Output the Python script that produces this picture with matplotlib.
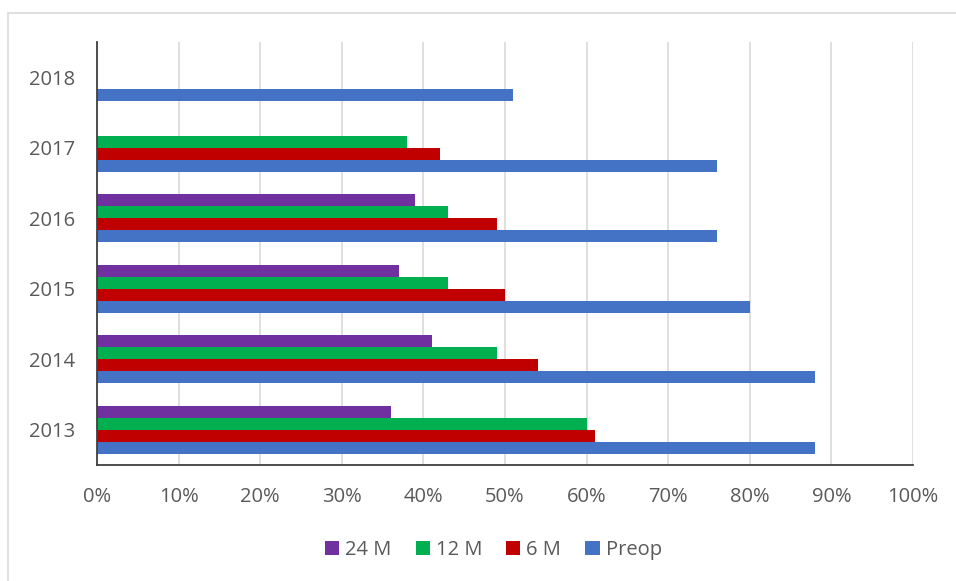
import numpy as np
import matplotlib.pyplot as plt
from matplotlib.patches import Rectangle

years = ["2013", "2014", "2015", "2016", "2017", "2018"]
preop = [0.88, 0.88, 0.80, 0.76, 0.76, 0.51]
m6 = [0.61, 0.54, 0.50, 0.49, 0.42, np.nan]
m12 = [0.60, 0.49, 0.43, 0.43, 0.38, np.nan]
m24 = [0.36, 0.41, 0.37, 0.39, np.nan, np.nan]

plt.rcParams['font.family'] = ['Open Sans', 'DejaVu Sans']
txt = '#595959'

fig = plt.figure(figsize=(9.56, 5.81), dpi=100)
ax = fig.add_axes([0.1015, 0.1997, 0.8535, 0.728])

# outer chart border (only top and left edges fall inside the picture)
fig.patches.append(Rectangle((8 / 956, -0.1), 2.0, 1.1 - 13 / 581,
                             transform=fig.transFigure, fill=False,
                             edgecolor='#d9d9d9', lw=1.2))

y = np.arange(len(years))
h = 0.17
series = [("Preop", preop, '#4472c4', -1.5),
          ("6 M", m6, '#c00000', -0.5),
          ("12 M", m12, '#00b050', 0.5),
          ("24 M", m24, '#7030a0', 1.5)]
handles = {}
for name, vals, col, off in series:
    v = np.array(vals, dtype=float)
    mask = ~np.isnan(v)
    b = ax.barh(y[mask] + off * h, v[mask], height=h, color=col, zorder=3)
    handles[name] = b

ax.set_xlim(0, 1)
ax.set_ylim(-0.5, len(years) - 0.5)
ax.set_xticks(np.arange(0, 1.01, 0.1))
ax.set_xticklabels([f"{int(round(t * 100))}%" for t in np.arange(0, 1.01, 0.1)])
ax.set_yticks(y)
ax.set_yticklabels(years)
ax.tick_params(axis='both', length=0, labelsize=14.5, colors=txt)
ax.tick_params(axis='x', pad=16)
ax.tick_params(axis='y', pad=16)
ax.grid(axis='x', color='#d9d9d9', lw=1.2, zorder=0)
for s in ['top', 'right']:
    ax.spines[s].set_visible(False)
for s in ['left', 'bottom']:
    ax.spines[s].set_color('#404040')
    ax.spines[s].set_linewidth(1.3)
    ax.spines[s].set_zorder(4)

order = ["24 M", "12 M", "6 M", "Preop"]
fig.legend([handles[n] for n in order], order, loc='center',
           bbox_to_anchor=(0.516, 0.053), ncol=4, frameon=False,
           fontsize=14.5, labelcolor=txt, handlelength=0.7, handleheight=0.7,
           handletextpad=0.3, columnspacing=1.2)

fig.savefig("out.png", dpi=100)
